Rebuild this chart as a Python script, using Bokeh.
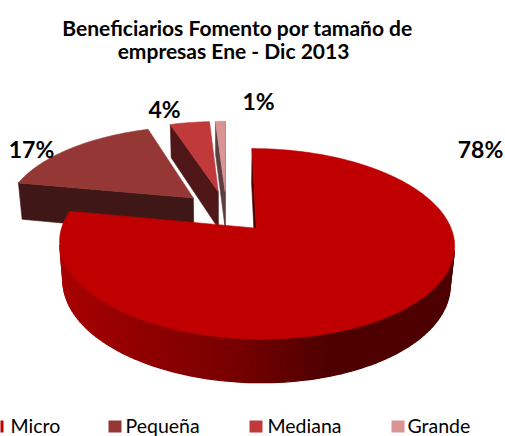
import numpy as np
from bokeh.plotting import figure
from bokeh.models import Range1d, ColumnDataSource
from bokeh.core.properties import value
from bokeh.embed import file_html
from bokeh.resources import INLINE

# ---------------- data ----------------
title_lines = ["Beneficiarios Fomento por tamaño de", "empresas Ene - Dic 2013"]
categories = ["Micro", "Pequeña", "Mediana", "Grande"]
shares = [78, 17, 4, 1]
pct_labels = ["78%", "17%", "4%", "1%"]

# ---------------- style / layout ----------------
top_colors = ["#C00000", "#953735", "#C0393B", "#D99594"]
label_x = [480, 31, 164, 258]
label_y = [148, 148, 108, 100]
legend_swatch_x = [-10, 108, 249, 391]
legend_text_x = [10, 125, 267, 407]
legend_y = 425
title_x = [237, 233]
title_y = [27, 50]

W_FIG, H_FIG = 505, 436
PHI = np.radians(27.5)
DIST = 5.53
FOC = 1045.0
CX, CY = 226.0, 211.0
EXPLODE = 0.24
THICK = 0.23


def proj(X, Y, Z):
    depth = DIST - Y * np.sin(PHI) + Z * np.cos(PHI)
    return CX + FOC * X / depth, CY - FOC * (Y * np.cos(PHI) + Z * np.sin(PHI)) / depth


CAM = np.array([0.0, DIST * np.sin(PHI), -DIST * np.cos(PHI)])


def visible(P, n):
    return float(np.dot(CAM - np.asarray(P), np.asarray(n))) > 0


def shade(hexc, f):
    rgb = [int(hexc[i:i + 2], 16) for i in (1, 3, 5)]
    return "#%02x%02x%02x" % tuple(int(max(0, min(255, c * f))) for c in rgb)


def wall_factor(c):
    return float(np.interp(c, [-1.0, -0.49, 0.02, 0.43, 1.0], [0.93, 0.79, 0.63, 0.41, 0.41]))


xs, ys, cols, lws = [], [], [], []


def add(poly, col, lw):
    arr = np.array(poly, dtype=float)
    px, py = proj(arr[:, 0], arr[:, 1], arr[:, 2])
    xs.append(list(px))
    ys.append(list(py))
    cols.append(col)
    lws.append(lw)


total = float(sum(shares))
starts, ends = [], []
acc = 0.0
for s in shares:
    a = np.radians(90 - acc / total * 360)
    acc += s
    b = np.radians(90 - acc / total * 360)
    starts.append(a)
    ends.append(b)

mids = [(a + b) / 2 for a, b in zip(starts, ends)]
order = sorted(range(len(shares)), key=lambda i: -np.sin(mids[i]))

for i in order:
    a, b, m = starts[i], ends[i], mids[i]
    ox, oz = EXPLODE * np.cos(m), EXPLODE * np.sin(m)
    base = top_colors[i]
    # radial walls
    for ang, n in ((a, (-np.sin(a), 0, np.cos(a))), (b, (np.sin(b), 0, -np.cos(b)))):
        P = (ox + 0.5 * np.cos(ang), -THICK / 2, oz + 0.5 * np.sin(ang))
        if visible(P, n):
            quad = [(ox, 0, oz), (ox + np.cos(ang), 0, oz + np.sin(ang)),
                    (ox + np.cos(ang), -THICK, oz + np.sin(ang)), (ox, -THICK, oz)]
            add(quad, shade(base, 0.42), 0.6)
    # outer wall
    nseg = max(2, int(abs(a - b) / np.radians(1.5)))
    ts = np.linspace(a, b, nseg + 1)
    for t0, t1 in zip(ts[:-1], ts[1:]):
        tm = (t0 + t1) / 2
        P = (ox + np.cos(tm), -THICK / 2, oz + np.sin(tm))
        if visible(P, (np.cos(tm), 0, np.sin(tm))):
            quad = [(ox + np.cos(t0), 0, oz + np.sin(t0)), (ox + np.cos(t1), 0, oz + np.sin(t1)),
                    (ox + np.cos(t1), -THICK, oz + np.sin(t1)), (ox + np.cos(t0), -THICK, oz + np.sin(t0))]
            add(quad, shade(base, wall_factor(ox + np.cos(tm))), 1.3)
    # top face
    tt = np.linspace(a, b, max(3, int(abs(a - b) / np.radians(1)) + 1))
    top = [(ox, 0, oz)] + [(ox + np.cos(t), 0, oz + np.sin(t)) for t in tt]
    add(top, base, 0.6)

p = figure(width=W_FIG, height=H_FIG, output_backend="svg", toolbar_location=None,
           x_range=Range1d(0, W_FIG), y_range=Range1d(H_FIG, 0),
           x_axis_type=None, y_axis_type=None, min_border=0)
p.outline_line_color = None
p.grid.visible = False
p.background_fill_color = "white"

src = ColumnDataSource(dict(xs=xs, ys=ys, c=cols, lw=lws))
p.patches("xs", "ys", fill_color="c", line_color="c", line_width="lw", source=src)

# title
p.text(x=title_x, y=title_y, text=title_lines, text_font=value("Lato"),
       text_font_style="bold", text_font_size="21px", text_align="center",
       text_baseline="alphabetic", text_color="#000000")

# percentage labels
p.text(x=label_x, y=label_y, text=pct_labels, text_font=value("Lato"), text_font_style="bold",
       text_font_size="23px", text_align="center", text_baseline="alphabetic", text_color="#000000")

# legend
p.rect(x=[sx + 6.5 for sx in legend_swatch_x], y=[legend_y + 1] * 4, width=13, height=12,
       fill_color=top_colors, line_color=None)
p.text(x=legend_text_x, y=[legend_y] * 4, text=categories, text_font=value("Lato"),
       text_font_size="19.5px", text_align="left", text_baseline="middle", text_color="#000000")

open("out.html", "w").write(file_html(p, INLINE))
